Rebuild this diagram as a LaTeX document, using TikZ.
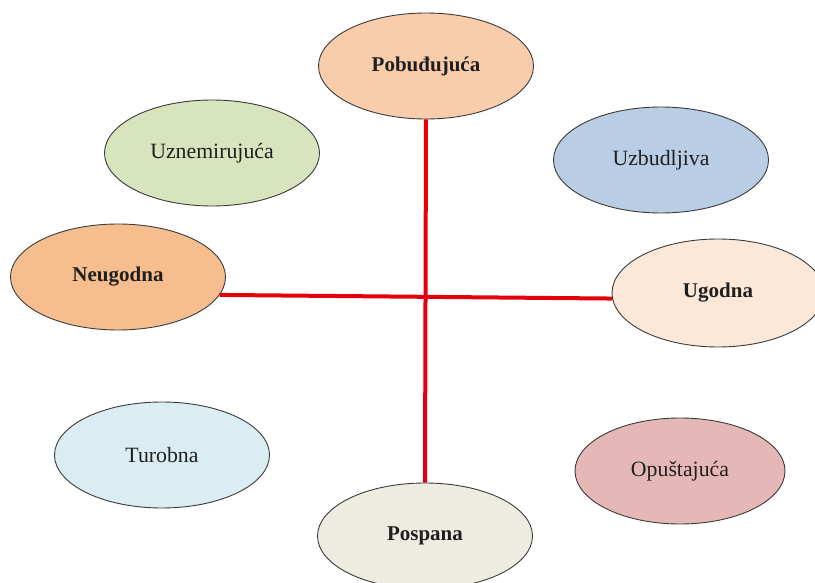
\documentclass[tikz,border=0pt]{standalone}
\usepackage{fontspec}
\setmainfont{Liberation Serif}
\usetikzlibrary{shapes.geometric}
\definecolor{cPob}{HTML}{F9CDAC}
\definecolor{cUzn}{HTML}{D7E4BD}
\definecolor{cUzb}{HTML}{B9CDE5}
\definecolor{cNeu}{HTML}{F6BE8E}
\definecolor{cUgo}{HTML}{FCE8D9}
\definecolor{cTur}{HTML}{DAEDF3}
\definecolor{cOpu}{HTML}{E5B8B7}
\definecolor{cPos}{HTML}{EEECE1}
\definecolor{edge}{HTML}{3A3A3A}
\definecolor{axis}{HTML}{E3000B}
\tikzset{
  oval/.style={ellipse, draw=edge, line width=0.9pt, minimum width=215pt, minimum height=106pt, inner sep=0pt,
    font=\fontsize{21.8}{26}\selectfont, text=black!88},
  boldoval/.style={oval, font=\fontsize{21}{25}\selectfont\bfseries},
  axisline/.style={draw=axis, line width=4pt}
}
\begin{document}
\begin{tikzpicture}[x=1pt,y=-1pt]
\useasboundingbox (0,0) rectangle (815,583);
\node[boldoval, fill=cPob] (pob) at (426,66) {Pobuđujuća};
\node[oval, fill=cUzn] (uzn) at (212,153) {Uznemirujuća};
\node[oval, fill=cUzb] (uzb) at (661,160) {Uzbudljiva};
\node[boldoval, fill=cNeu] (neu) at (118,277) {Neugodna};
\node[boldoval, fill=cUgo, minimum width=212pt, minimum height=108pt] (ugo) at (718,293) {Ugodna};
\node[oval, fill=cTur] (tur) at (162,455) {Turobna};
\node[oval, fill=cOpu, minimum width=210pt] (opu) at (680,471) {Opuštajuća};
\node[boldoval, fill=cPos] (pos) at (425,536) {Pospana};
\draw[axisline] (pob.south) -- (pos.north);
\draw[axisline] (neu.-10) -- (ugo.183);
\end{tikzpicture}
\end{document}
